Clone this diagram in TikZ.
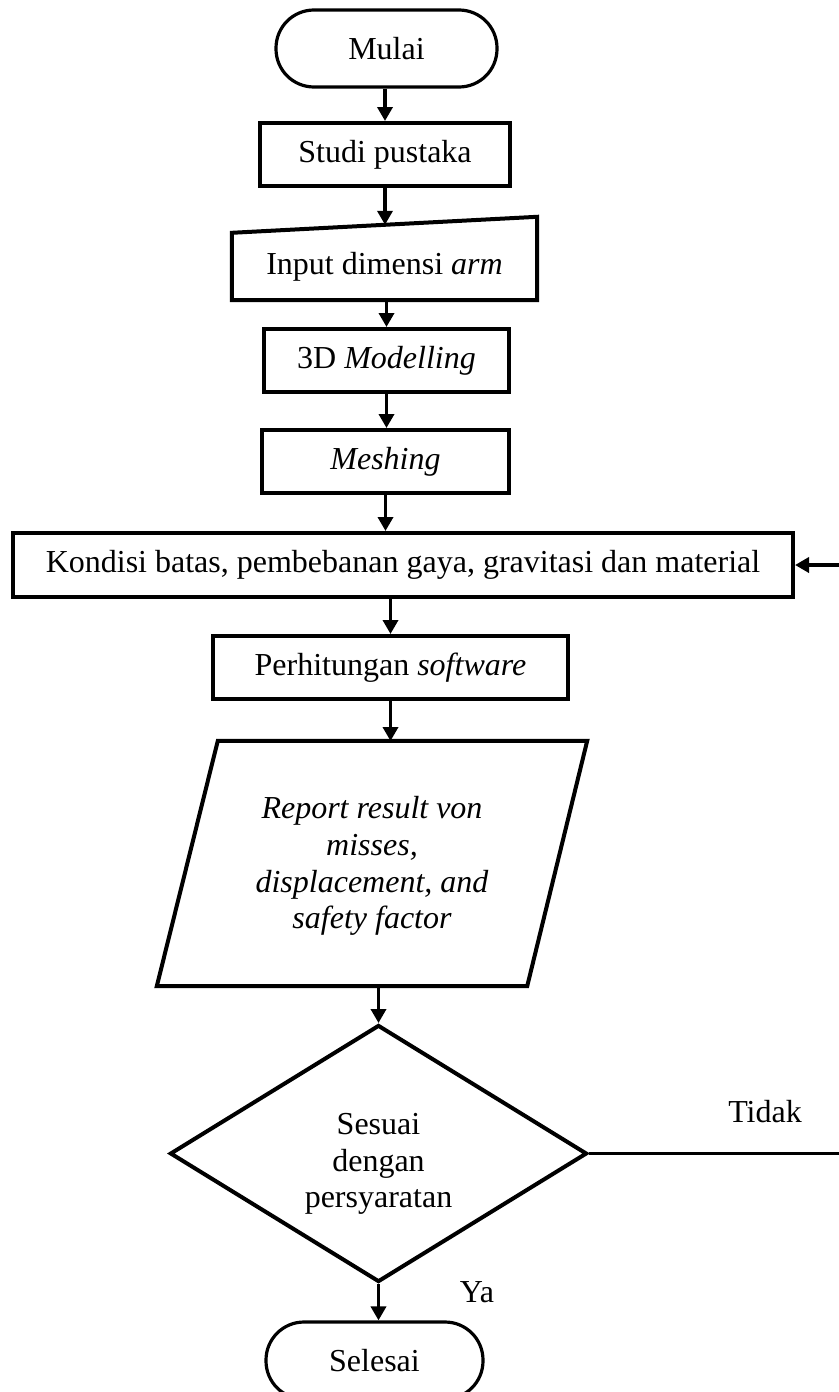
\documentclass[tikz,border=0pt]{standalone}
\usepackage{fontspec}
\setmainfont{Liberation Serif}
\usetikzlibrary{shapes.geometric,arrows.meta,calc}
\tikzset{
  base/.style={inner sep=0pt, align=center, font=\fontsize{32}{36.8}\selectfont},
  boxnode/.style={base, draw, line width=4pt, rectangle},
  termnode/.style={base, draw, line width=3.2pt, rectangle, rounded corners=38pt},
  shapeline/.style={line width=4pt, line join=miter},
  arr/.style={line width=3.6pt, -{Triangle[length=14pt,width=15pt]}},
  lbl/.style={base}
}
\begin{document}
\begin{tikzpicture}[x=1pt,y=-1pt]
\useasboundingbox (0,0) rectangle (838,1392);
% nodes
\node[termnode, minimum width=221pt, minimum height=77pt] (mulai) at (386.5,48.5) {Mulai};
\node[boxnode, minimum width=250pt, minimum height=63pt] (studi) at (385,154.5) {Studi pustaka};
\node[base, minimum width=305pt, minimum height=67pt] (inp) at (384.5,266.5) {Input dimensi \textit{arm}};
\coordinate (inpTR) at ($(inp.north east)+(0,-16)$);
\coordinate (inpTop) at ($(inp.north west)!0.5!(inpTR)$);
\draw[shapeline] (inp.south west) -- (inp.south east) -- (inpTR) -- (inp.north west) -- cycle;
\node[boxnode, minimum width=245pt, minimum height=63pt] (model) at (386.5,360.5) {3D \textit{Modelling}};
\node[boxnode, minimum width=247pt, minimum height=63pt] (mesh) at (385.5,461.5) {\textit{Meshing}};
\node[boxnode, minimum width=780pt, minimum height=64pt] (kond) at (403,565) {Kondisi batas, pembebanan gaya, gravitasi dan material};
\node[boxnode, minimum width=355pt, minimum height=63pt] (perh) at (390.5,667.5) {Perhitungan \textit{software}};
\node[base, minimum width=430pt, minimum height=245pt] (rep) at (372,866) {\itshape Report result von\\ \itshape misses,\\ \itshape displacement, and\\ \itshape safety factor};
\draw[shapeline] ($(rep.north west)+(61,-2.5)$) -- ($(rep.north east)+(0,-2.5)$) -- ($(rep.south east)+(-60,-2.5)$) -- ($(rep.south west)+(0,-2.5)$) -- cycle;
\node[base, draw, shape=diamond, line width=4pt, aspect=1.62, minimum width=417pt, minimum height=257pt] (dec) at (378.5,1153.5) {\rule{0pt}{42pt}Sesuai\\dengan\\persyaratan};
\node[termnode, minimum width=217pt, minimum height=77pt] (selesai) at (374.5,1360.5) {Selesai};
\node[lbl] (ya) at (477,1292) {Ya};
\node[lbl] (tidak) at (765,1112) {Tidak};
\coordinate (loop) at ($(dec.east)+(264,0)$);
% connectors
\draw[arr] (mulai.south -| studi.north) -- (studi.north);
\draw[arr] (studi.south) -- (studi.south |- inpTop);
\draw[arr] (inp.south -| model.north) -- (model.north);
\draw[arr] (model.south) -- (model.south |- mesh.north);
\draw[arr] (mesh.south) -- (mesh.south |- kond.north);
\draw[arr] (kond.south -| perh.north) -- (perh.north);
\draw[arr] (perh.south) -- (perh.south |- 0,741);
\draw[arr] (378.5,986) -- (dec.north);
\draw[arr] (dec.south) -- (dec.south |- selesai.north);
\draw[arr] (dec.east) -- (loop) |- (kond.east);
\end{tikzpicture}
\end{document}
